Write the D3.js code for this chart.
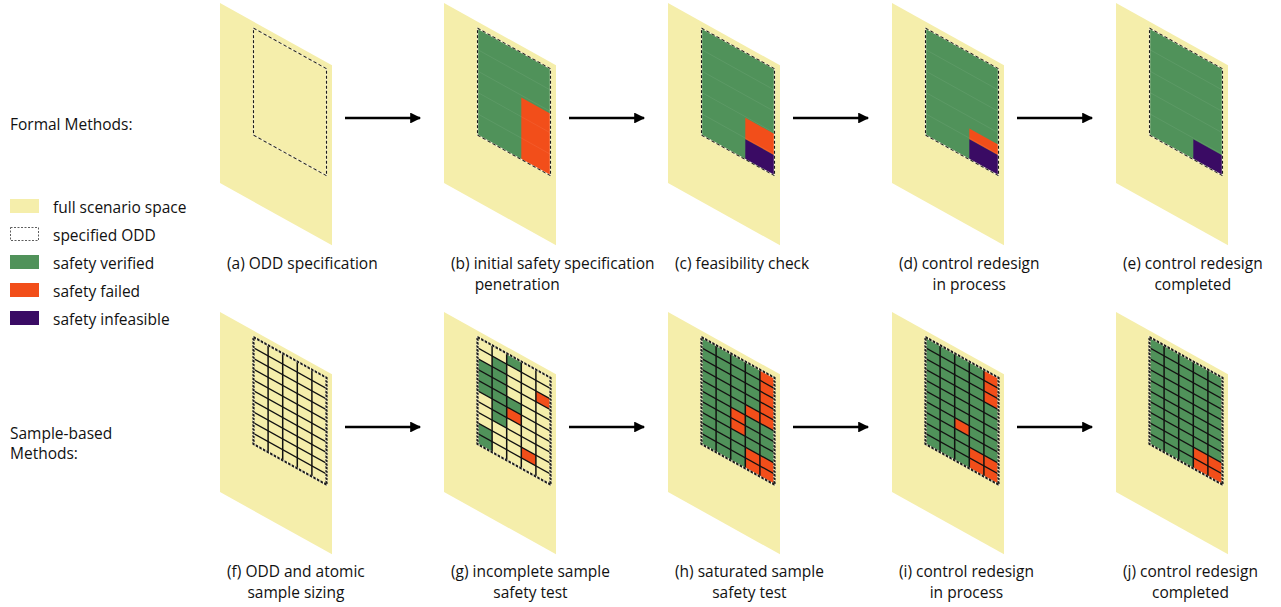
<!DOCTYPE html>
<html>
<head>
<meta charset="utf-8">
<script src="https://cdn.jsdelivr.net/npm/d3@7"></script>
<style>
  body { margin: 0; background: #fff; }
  svg { display: block; }
</style>
</head>
<body>
<div id="wrapper"></div>
<script>
// 1. Data
const rowNames = ["Formal Methods:", ["Sample-based", "Methods:"]]

const legendItems = [
  { key: "space", label: "full scenario space" },
  { key: "odd", label: "specified ODD" },
  { key: "verified", label: "safety verified" },
  { key: "failed", label: "safety failed" },
  { key: "infeasible", label: "safety infeasible" },
]

// [tag, lines, second line centred under the first?]
const formalLabels = [
  ["(a)", ["ODD specification"], true],
  ["(b)", ["initial safety specification", "penetration"], false],
  ["(c)", ["feasibility check"], true],
  ["(d)", ["control redesign", "in process"], true],
  ["(e)", ["control redesign", "completed"], true],
]

const sampleLabels = [
  ["(f)", ["ODD and atomic", "sample sizing"], true],
  ["(g)", ["incomplete sample", "safety test"], true],
  ["(h)", ["saturated sample", "safety test"], true],
  ["(i)", ["control redesign", "in process"], true],
  ["(j)", ["control redesign", "completed"], true],
]

// regions inside the ODD, in unit coords (u across, v down)
const formalRegions = [
  [],
  [
    { state: "verified", u: [0, 1], v: [0, 1] },
    { state: "failed", u: [0.6, 1], v: [0.42, 1] },
  ],
  [
    { state: "verified", u: [0, 1], v: [0, 1] },
    { state: "failed", u: [0.6, 1], v: [0.61, 0.81] },
    { state: "infeasible", u: [0.6, 1], v: [0.81, 1] },
  ],
  [
    { state: "verified", u: [0, 1], v: [0, 1] },
    { state: "failed", u: [0.6, 1], v: [0.71, 0.81] },
    { state: "infeasible", u: [0.6, 1], v: [0.81, 1] },
  ],
  [
    { state: "verified", u: [0, 1], v: [0, 1] },
    { state: "infeasible", u: [0.6, 1], v: [0.81, 1] },
  ],
]

// atomic sample cells: one string per row, one char per column
// "." untested, "v" verified, "f" failed
const sampleCells = [
  [".....", ".....", ".....", ".....", ".....",
   ".....", ".....", ".....", ".....", "....."],
  ["..v..", ".v...", "vv..f", "vv...", "vvv..",
   ".vf..", ".v...", ".....", "v..f.", "v...."],
  ["vvvvf", "vvvvf", "vvvvf", "vvvvf", "vvvff",
   "vvfvv", "vvfvv", "vvvvv", "vvvff", "vvvff"],
  ["vvvvf", "vvvvf", "vvvvf", "vvvvv", "vvvvv",
   "vvvvv", "vvfvv", "vvvvv", "vvvff", "vvvff"],
  ["vvvvv", "vvvvv", "vvvvv", "vvvvv", "vvvvv",
   "vvvvv", "vvvvv", "vvvvv", "vvvff", "vvvff"],
]

const gridCols = 5
const gridRows = 10

// 2. Dimensions
const width = 1281
const height = 607
const skew = 0.556
const panel = { w: 112, h: 180 }
const odd = { x: 33.5, y: 6.5, w: 73, h: 107 }
const rowTop = [3, 312]
const labelBase = [269, 577]
const arrowY = [118, 427]

const colors = {
  space: "#f5eeab",
  verified: "#50925a",
  failed: "#f24e1a",
  infeasible: "#3a0b64",
  ".": "none",
  v: "#50925a",
  f: "#f24e1a",
}

const fontFamily = "'Open Sans', sans-serif"
const fontSize = 15.5

// 3. Canvas
const svg = d3
  .select("#wrapper")
  .append("svg")
  .attr("width", width)
  .attr("height", height)
  .style("font-family", fontFamily)
  .style("font-size", `${fontSize}px`)

svg
  .append("defs")
  .append("marker")
  .attr("id", "arrowhead")
  .attr("viewBox", "0 0 10 10")
  .attr("refX", 9)
  .attr("refY", 5)
  .attr("markerWidth", 4.6)
  .attr("markerHeight", 4.2)
  .attr("markerUnits", "strokeWidth")
  .attr("orient", "auto")
  .append("path")
  .attr("d", "M0,0 L10,5 L0,10 Z")
  .attr("fill", "#000")

// 4. Scales
const panelX = d3.scaleLinear().domain([0, 4]).range([220, 1116])
const uScale = d3.scaleLinear().domain([0, 1]).range([0, odd.w])
const vScale = d3.scaleLinear().domain([0, 1]).range([0, odd.h])
const colScale = d3.scaleBand().domain(d3.range(gridCols)).range([0, odd.w])
const rowScale = d3.scaleBand().domain(d3.range(gridRows)).range([0, odd.h])

const skewed = (x, y) => `matrix(1,${skew},0,1,${x},${y})`

function drawSpace(i, row) {
  const g = svg.append("g").attr("transform", skewed(panelX(i), rowTop[row]))
  g.append("rect")
    .attr("width", panel.w)
    .attr("height", panel.h)
    .attr("fill", colors.space)
  return g
    .append("g")
    .attr("transform", `translate(${odd.x},${odd.y})`)
}

function drawBorder(g, thick) {
  g.append("rect")
    .attr("width", odd.w)
    .attr("height", odd.h)
    .attr("fill", "none")
    .attr("stroke", "#fbf6d6")
    .attr("stroke-width", thick ? 2.2 : 1.4)
  g.append("rect")
    .attr("width", odd.w)
    .attr("height", odd.h)
    .attr("fill", "none")
    .attr("stroke", "#1a1a1a")
    .attr("stroke-width", thick ? 2.2 : 1.1)
    .attr("stroke-dasharray", thick ? "2.4,1.2" : "3,2")
}

// 5. Formal methods row
formalRegions.forEach((regions, i) => {
  const g = drawSpace(i, 0)
  g.selectAll(".region")
    .data(regions)
    .join("rect")
    .attr("class", "region")
    .attr("x", (d) => uScale(d.u[0]))
    .attr("y", (d) => vScale(d.v[0]))
    .attr("width", (d) => uScale(d.u[1]) - uScale(d.u[0]))
    .attr("height", (d) => vScale(d.v[1]) - vScale(d.v[0]))
    .attr("fill", (d) => colors[d.state])

  // faint traces of the sample rows over the filled ODD
  if (regions.length) {
    g.selectAll(".faint")
      .data([2, 4, 6, 8])
      .join("line")
      .attr("class", "faint")
      .attr("x1", 0)
      .attr("x2", odd.w)
      .attr("y1", (d) => rowScale(d))
      .attr("y2", (d) => rowScale(d))
      .attr("stroke", "#fff")
      .attr("stroke-opacity", 0.1)
      .attr("stroke-width", 0.6)
  }
  drawBorder(g, false)
})

// 6. Sample-based row
sampleCells.forEach((rows, i) => {
  const g = drawSpace(i, 1)
  const cells = rows.flatMap((r, ri) =>
    r.split("").map((s, ci) => ({ row: ri, col: ci, state: s }))
  )
  g.selectAll(".cell")
    .data(cells.filter((d) => d.state !== "."))
    .join("rect")
    .attr("class", "cell")
    .attr("x", (d) => colScale(d.col))
    .attr("y", (d) => rowScale(d.row))
    .attr("width", colScale.bandwidth())
    .attr("height", rowScale.bandwidth())
    .attr("fill", (d) => colors[d.state])

  g.selectAll(".hline")
    .data(d3.range(1, gridRows))
    .join("line")
    .attr("class", "hline")
    .attr("x1", 0)
    .attr("x2", odd.w)
    .attr("y1", (d) => rowScale(d))
    .attr("y2", (d) => rowScale(d))
    .attr("stroke", "#111")
    .attr("stroke-width", 1.5)

  g.selectAll(".vline")
    .data(d3.range(1, gridCols))
    .join("line")
    .attr("class", "vline")
    .attr("y1", 0)
    .attr("y2", odd.h)
    .attr("x1", (d) => colScale(d))
    .attr("x2", (d) => colScale(d))
    .attr("stroke", "#111")
    .attr("stroke-width", 1.5)

  drawBorder(g, true)
})

// 7. Arrows
arrowY.forEach((y) => {
  d3.range(4).forEach((i) => {
    svg
      .append("line")
      .attr("x1", panelX(i) + 125)
      .attr("x2", panelX(i) + 200)
      .attr("y1", y)
      .attr("y2", y)
      .attr("stroke", "#000")
      .attr("stroke-width", 2.6)
      .attr("marker-end", "url(#arrowhead)")
  })
})

// 8. Panel captions
const measure = svg.append("text").attr("visibility", "hidden")
const textWidth = (t) => {
  measure.text(t)
  return measure.node().getComputedTextLength()
}

;[formalLabels, sampleLabels].forEach((labels, row) => {
  labels.forEach(([tag, lines, centred], i) => {
    const x = panelX(i) + 7
    const first = `${tag} ${lines[0]}`
    const firstW = textWidth(first)
    svg
      .append("text")
      .attr("x", x)
      .attr("y", labelBase[row])
      .attr("fill", "#111")
      .text(first)
    if (lines[1]) {
      const secondW = textWidth(lines[1])
      const x2 = centred
        ? x + (firstW - secondW) / 2
        : x + textWidth(tag + " ") + 5
      svg
        .append("text")
        .attr("x", x2)
        .attr("y", labelBase[row] + 21)
        .attr("fill", "#111")
        .text(lines[1])
    }
  })
})
measure.remove()

// 9. Row titles
svg.append("text").attr("x", 10).attr("y", 129.5).attr("fill", "#111").text(rowNames[0])
rowNames[1].forEach((t, li) => {
  svg
    .append("text")
    .attr("x", 10)
    .attr("y", 438.5 + li * 20.5)
    .attr("fill", "#111")
    .text(t)
})

// 10. Legend
const legend = svg
  .append("g")
  .selectAll("g")
  .data(legendItems)
  .join("g")
  .attr("transform", (d, i) => `translate(10,${199 + i * 28})`)

legend
  .append("rect")
  .attr("x", (d) => (d.key === "odd" ? 0.5 : 0))
  .attr("y", (d) => (d.key === "odd" ? 0.5 : 0))
  .attr("width", (d) => (d.key === "odd" ? 28 : 29))
  .attr("height", (d) => (d.key === "odd" ? 13 : 14))
  .attr("fill", (d) => (d.key === "odd" ? "#fff" : colors[d.key]))
  .attr("stroke", (d) => (d.key === "odd" ? "#333" : "none"))
  .attr("stroke-width", 0.8)
  .attr("stroke-dasharray", "2,1.5")

legend
  .append("text")
  .attr("x", 43)
  .attr("y", 14)
  .attr("fill", "#111")
  .text((d) => d.label)
</script>
</body>
</html>
